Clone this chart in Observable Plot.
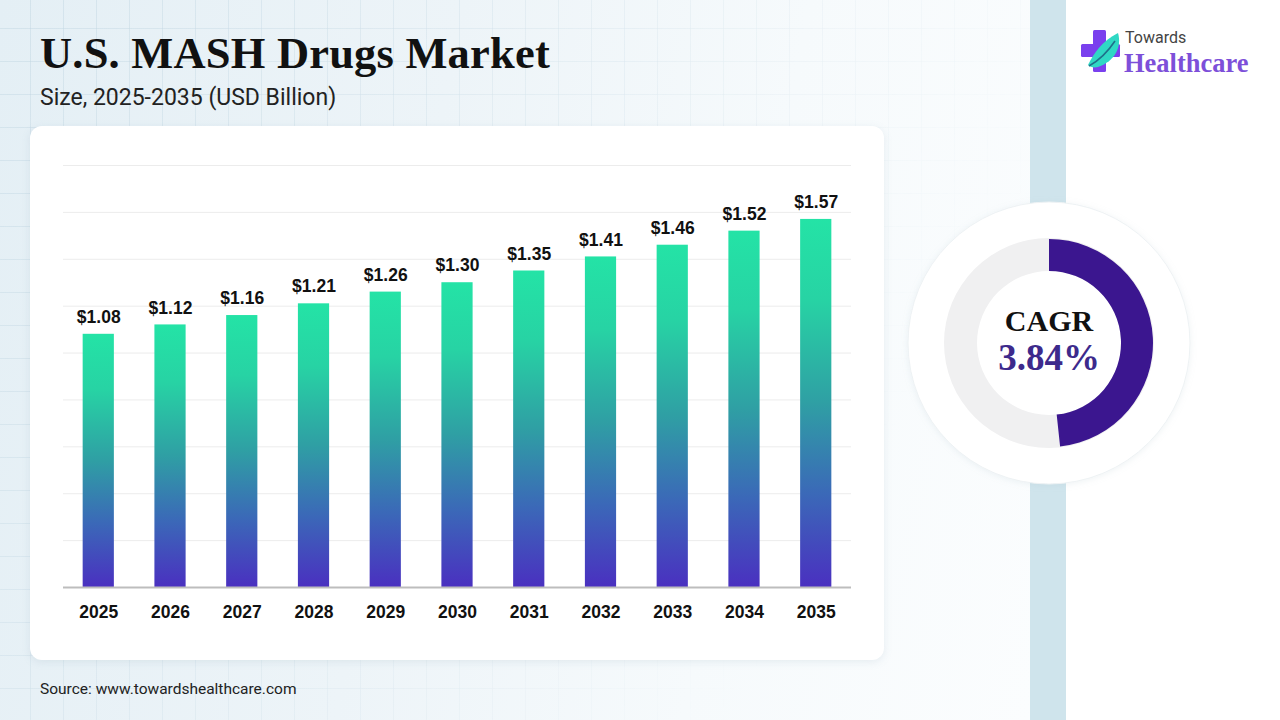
<!DOCTYPE html>
<html>
<head>
<meta charset="utf-8">
<script src="https://cdn.jsdelivr.net/npm/d3@7"></script>
<script src="https://cdn.jsdelivr.net/npm/@observablehq/plot@0.6"></script>
<style>
  html, body { margin: 0; padding: 0; }
  body { width: 1280px; height: 720px; position: relative; overflow: hidden;
         background: #ffffff; font-family: Roboto, "Liberation Sans", sans-serif; }
  #bg { position: absolute; left: 0; top: 0; width: 1030px; height: 720px;
        background: linear-gradient(100deg, #e4eff5 0%, #edf4f8 40%, #f6fafc 70%, #fbfdfe 100%); }
  #grid { position: absolute; left: 0; top: 0; width: 1030px; height: 720px;
          background-image:
            linear-gradient(to right, rgba(190,212,224,0.45) 1px, transparent 1px),
            linear-gradient(to bottom, rgba(190,212,224,0.45) 1px, transparent 1px);
          background-size: 33px 33px; background-position: -3px -5px;
          -webkit-mask-image: linear-gradient(120deg, rgba(0,0,0,1) 0%, rgba(0,0,0,0.5) 40%, rgba(0,0,0,0) 80%);
          mask-image: linear-gradient(120deg, rgba(0,0,0,1) 0%, rgba(0,0,0,0.5) 40%, rgba(0,0,0,0) 80%); }
  #stripe { position: absolute; left: 1030px; top: 0; width: 36px; height: 720px; background: #cfe4ec; }
  #title { position: absolute; left: 40px; top: 28px; margin: 0;
           font-family: "Liberation Serif", "DejaVu Serif", serif; font-weight: bold;
           font-size: 44.5px; line-height: 50px; color: #111; letter-spacing: 0.2px; }
  #subtitle { position: absolute; left: 40px; top: 84px; font-size: 23px; color: #222; }
  #card { position: absolute; left: 30px; top: 126px; width: 854px; height: 534px;
          background: #fff; border-radius: 12px; box-shadow: 0 2px 8px rgba(120,150,170,0.15); }
  #chart { position: absolute; left: 30px; top: 126px; }
  #source { position: absolute; left: 40px; top: 680px; font-size: 15.5px; color: #222; }
  #donut { position: absolute; left: 0; top: 0; }
  #logo { position: absolute; left: 1078px; top: 26px; }
</style>
</head>
<body>
<div id="bg"></div>
<div id="grid"></div>
<div id="stripe"></div>
<h1 id="title">U.S. MASH Drugs Market</h1>
<div id="subtitle">Size, 2025-2035 (USD Billion)</div>
<div id="card"></div>
<div id="chart"></div>
<div id="source">Source: www.towardshealthcare.com</div>
<svg id="donut" width="1280" height="720"></svg>
<svg id="logo" width="190" height="56"></svg>
<script>
// ---- data ----
const years = ["2025","2026","2027","2028","2029","2030","2031","2032","2033","2034","2035"];
const values = [1.08, 1.12, 1.16, 1.21, 1.26, 1.30, 1.35, 1.41, 1.46, 1.52, 1.57];
const yTicks = [0, 0.2, 0.4, 0.6, 0.8, 1.0, 1.2, 1.4, 1.6, 1.8];
const cagrLabel = "CAGR";
const cagrValue = 3.84;
const cagrArcShare = 0.483;   // share of the ring filled in the reference

const data = years.map((y, i) => ({year: y, value: values[i]}));

const defs = () => {
  const d = d3.create("svg:defs");
  const g = d.append("linearGradient").attr("id", "barGrad")
    .attr("x1", 0).attr("y1", 0).attr("x2", 0).attr("y2", 1);
  [["0%", "#24e3a6"], ["22%", "#27d3a4"], ["50%", "#2f9fa4"], ["75%", "#3b68b8"], ["100%", "#4a30c0"]]
    .forEach(([o, c]) => g.append("stop").attr("offset", o).attr("stop-color", c));
  return d.node();
};

const chart = Plot.plot({
  width: 854,
  height: 534,
  marginLeft: 33,
  marginRight: 33,
  marginTop: 39,
  marginBottom: 73,
  style: { fontFamily: "'Liberation Sans', Arial, sans-serif", background: "transparent", overflow: "visible" },
  x: { domain: years, paddingInner: 0.565, paddingOuter: 0.274, round: false, label: null },
  y: { domain: [0, 1.8], label: null },
  marks: [
    defs,
    Plot.ruleY(yTicks.slice(1), { stroke: "#ececec", strokeWidth: 1 }),
    Plot.barY(data, { x: "year", y: "value", fill: "url(#barGrad)" }),
    Plot.ruleY([0], { stroke: "#bdbdbd", strokeWidth: 2 }),
    Plot.text(data, { x: "year", y: "value", text: d => "$" + d.value.toFixed(2), dy: -17,
      fontSize: 17.5, fontWeight: "bold", fill: "#111" }),
    Plot.axisX({ tickSize: 0, tickPadding: 18, fontSize: 17.5, fontWeight: "bold", fill: "#111", label: null }),
    Plot.axisY({ ticks: [], label: null })
  ]
});
document.getElementById("chart").append(chart);

// ---- donut ----
const svg = d3.select("#donut");
const cx = 1049, cy = 343;
const sdefs = svg.append("defs");
const f = sdefs.append("filter").attr("id", "soft").attr("x", "-20%").attr("y", "-20%").attr("width", "140%").attr("height", "140%");
f.append("feDropShadow").attr("dx", 0).attr("dy", 1).attr("stdDeviation", 3).attr("flood-color", "#9fb7c4").attr("flood-opacity", 0.18);
svg.append("circle").attr("cx", cx).attr("cy", cy).attr("r", 141)
  .attr("fill", "#ffffff").attr("stroke", "#eef2f4").attr("stroke-width", 1).attr("filter", "url(#soft)");
const ringBg = d3.arc().innerRadius(72).outerRadius(105).startAngle(0).endAngle(2 * Math.PI);
svg.append("path").attr("transform", `translate(${cx},${cy})`).attr("d", ringBg()).attr("fill", "#f0f0f1");
const arc = d3.arc().innerRadius(72).outerRadius(104).startAngle(0).endAngle(2 * Math.PI * cagrArcShare);
svg.append("path").attr("transform", `translate(${cx},${cy})`).attr("d", arc()).attr("fill", "#3b168f");
svg.append("text").attr("x", cx).attr("y", cy - 12).attr("text-anchor", "middle")
  .attr("font-family", "'Liberation Serif', 'DejaVu Serif', serif").attr("font-weight", "bold")
  .attr("font-size", 30).attr("fill", "#111").text(cagrLabel);
svg.append("text").attr("x", cx).attr("y", cy + 27).attr("text-anchor", "middle")
  .attr("font-family", "'Liberation Serif', 'DejaVu Serif', serif").attr("font-weight", "bold")
  .attr("font-size", 37).attr("fill", "#3d2a8c").text(cagrValue.toFixed(2) + "%");

// ---- logo ----
const lg = d3.select("#logo");
lg.append("rect").attr("x", 15).attr("y", 4).attr("width", 13).attr("height", 42).attr("rx", 1.5).attr("fill", "#7a40ee");
lg.append("rect").attr("x", 3).attr("y", 18).attr("width", 39).attr("height", 13).attr("rx", 1.5).attr("fill", "#7a40ee");
lg.append("path").attr("d", "M10,39 C16,27 24,15 40,7 C44,21 37,35 20,41 C16,42 12,41 10,39 Z").attr("fill", "#2fd8c4");
lg.append("path").attr("d", "M11,40 C20,35 29,27 37,15").attr("stroke", "#1f6f8a").attr("stroke-width", 1.6).attr("fill", "none");
lg.append("text").attr("x", 47).attr("y", 17).attr("font-family", "Roboto, 'Liberation Sans', sans-serif")
  .attr("font-size", 16).attr("fill", "#444").text("Towards");
lg.append("text").attr("x", 46).attr("y", 46).attr("font-family", "'Liberation Serif', 'DejaVu Serif', serif")
  .attr("font-weight", "bold").attr("font-size", 26.5).attr("fill", "#7d4fd9").text("Healthcare");
</script>
</body>
</html>
